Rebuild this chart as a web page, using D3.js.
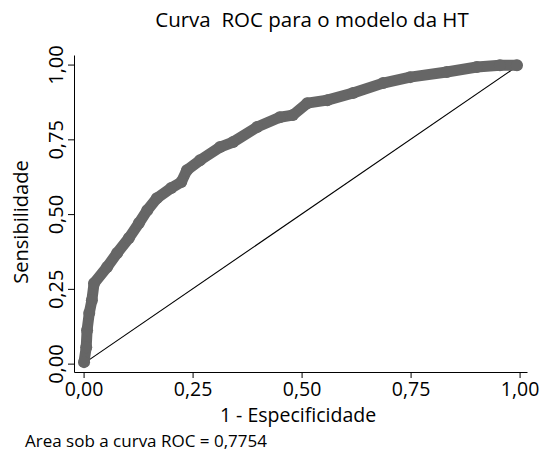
<!DOCTYPE html>
<html>
<head>
<meta charset="utf-8">
<script src="https://cdn.jsdelivr.net/npm/d3@7"></script>
<style>
    body { margin: 0; background: white; }
    svg text { font-family: 'Open Sans', sans-serif; fill: black; }
</style>
</head>
<body>
<div id="chart"></div>
<script>
// ROC points (1 - specificity, sensitivity)
const fpr = [0.001, 0.006, 0.008, 0.013, 0.019, 0.024, 0.054, 0.077, 0.104, 0.127,
             0.146, 0.168, 0.201, 0.224, 0.237, 0.267, 0.313, 0.343, 0.398, 0.450,
             0.480, 0.513, 0.559, 0.618, 0.687, 0.749, 0.833, 0.902, 0.955, 0.994];
const tpr = [0.005, 0.055, 0.112, 0.169, 0.212, 0.269, 0.323, 0.370, 0.420, 0.470,
             0.513, 0.553, 0.587, 0.607, 0.647, 0.680, 0.724, 0.741, 0.791, 0.824,
             0.831, 0.871, 0.881, 0.905, 0.938, 0.958, 0.975, 0.992, 0.998, 0.998];
const tickValues = [0, 0.25, 0.5, 0.75, 1];

const title = 'Curva  ROC para o modelo da HT';
const xTitle = '1 - Especificidade';
const yTitle = 'Sensibilidade';
const note = 'Area sob a curva ROC = 0,7754';

const W = 543, H = 458;
const markerColor = '#666666';

const svg = d3.select('#chart')
    .append('svg')
    .attr('width', W)
    .attr('height', H);

// plot region spans a bit past 0 and 1 on both axes
const x = d3.scaleLinear().domain([-0.022, 1.017]).range([74, 527]);
const y = d3.scaleLinear().domain([-0.028, 1.032]).range([372, 55]);

const fmt = d => d.toFixed(2).replace('.', ',');

// x axis
const xAxis = svg.append('g')
    .attr('transform', `translate(0,${y.range()[0]})`)
    .call(d3.axisBottom(x).tickValues(tickValues).tickSize(6).tickSizeOuter(0).tickFormat(fmt));
xAxis.selectAll('text')
    .style('font-size', '19.5px')
    .attr('y', 24)
    .attr('dy', 0);

// y axis
const yAxis = svg.append('g')
    .attr('transform', `translate(${x.range()[0]},0)`)
    .call(d3.axisLeft(y).tickValues(tickValues).tickSize(6).tickSizeOuter(0).tickFormat(fmt));
yAxis.selectAll('text')
    .style('font-size', '20px')
    .attr('transform', 'rotate(-90)')
    .attr('text-anchor', 'middle')
    .attr('x', 0)
    .attr('y', -11)
    .attr('dy', 0);

svg.selectAll('.domain, .tick line').attr('stroke', 'black');

// reference diagonal
svg.append('line')
    .attr('x1', x(0)).attr('y1', y(0))
    .attr('x2', x(1)).attr('y2', y(1))
    .attr('stroke', 'black')
    .attr('stroke-width', 1.1);

// ROC curve drawn as dense markers
const pts = fpr.map((f, i) => ({ f, t: tpr[i] }));

svg.append('path')
    .datum(pts)
    .attr('fill', 'none')
    .attr('stroke', markerColor)
    .attr('stroke-width', 11)
    .attr('stroke-linejoin', 'round')
    .attr('stroke-linecap', 'round')
    .attr('d', d3.line().x(d => x(d.f)).y(d => y(d.t)));

svg.selectAll('circle.pt')
    .data(pts)
    .join('circle')
    .attr('class', 'pt')
    .attr('cx', d => x(d.f))
    .attr('cy', d => y(d.t))
    .attr('r', 6)
    .attr('fill', markerColor);

// titles
svg.append('text')
    .attr('x', 312)
    .attr('y', 27)
    .attr('text-anchor', 'middle')
    .style('font-size', '20.5px')
    .style('white-space', 'pre')
    .attr('xml:space', 'preserve')
    .text(title);

svg.append('text')
    .attr('x', 298)
    .attr('y', 422)
    .attr('text-anchor', 'middle')
    .style('font-size', '19.5px')
    .text(xTitle);

svg.append('text')
    .attr('x', 25)
    .attr('y', 447)
    .style('font-size', '17px')
    .text(note);

svg.append('text')
    .attr('transform', `translate(28,222) rotate(-90)`)
    .attr('text-anchor', 'middle')
    .style('font-size', '20px')
    .text(yTitle);
</script>
</body>
</html>
